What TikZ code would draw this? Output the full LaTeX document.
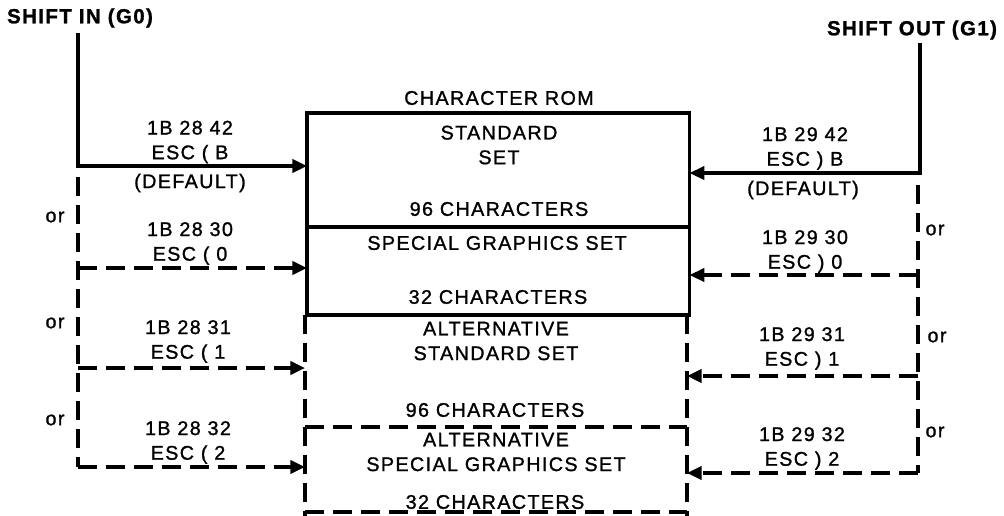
\documentclass[tikz,border=0pt]{standalone}
\usepackage{fontspec}
\setmainfont{Liberation Sans}[LetterSpace=7, FakeBold=1.2]
\usetikzlibrary{arrows.meta}
\begin{document}
\begin{tikzpicture}[x=0.75pt,y=-0.75pt,
  lbl/.style={font=\fontsize{14.8}{18.5}\selectfont, align=center, inner sep=0pt},
  head/.style={font=\fontsize{15.3}{18}\selectfont\bfseries, inner sep=0pt},
  solidln/.style={line width=2.3pt},
  dashln/.style={line width=2.3pt, dash pattern=on 14pt off 7pt},
  arr/.style={-{Triangle[length=11pt,width=10pt]}},
  region/.style={inner sep=0pt, outer sep=0pt, anchor=north west}]
\useasboundingbox (0,0) rectangle (1004,515);
% ROM sections
\node[region, draw, solidln, minimum width=287pt, minimum height=85.5pt] (std) at (307,113) {};
\node[region, draw, solidln, minimum width=287pt, minimum height=66pt] (spc) at (307,227) {};
\node[region, minimum width=286.5pt, minimum height=84pt] (astd) at (305,315) {};
\node[region, minimum width=286.5pt, minimum height=148pt] (aspc) at (305,427) {};
\draw[dashln] (astd.north west) -- (aspc.south west);
\draw[dashln] (astd.north east) -- (aspc.south east);
\draw[dashln] (aspc.north west) -- (aspc.north east);
\coordinate (bl) at (305,512);
\coordinate (br) at (687,512);
\draw[dashln] (bl) -- (br);
% texts in ROM
\node[lbl] (rom) at (499,98) {CHARACTER ROM};
\node[lbl] (t1) at (499,145) {STANDARD\\SET};
\node[lbl] (t2) at (499,209) {96 CHARACTERS};
\node[lbl] (t3) at (497,243) {SPECIAL GRAPHICS SET};
\node[lbl] (t4) at (498,297) {32 CHARACTERS};
\node[lbl] (t5) at (496,341) {ALTERNATIVE\\STANDARD SET};
\node[lbl] (t6) at (495,410) {96 CHARACTERS};
\node[lbl] (t7) at (496,452) {ALTERNATIVE\\SPECIAL GRAPHICS SET};
\node[lbl] (t8) at (495,502) {32 CHARACTERS};
% headings
\node[head] (si) at (80,18) {SHIFT IN (G0)};
\node[head] (so) at (912,30) {SHIFT OUT (G1)};
% left side
\coordinate (L0) at (78,33);
\coordinate (L1) at (78,166);
\coordinate (Ls) at (78,177);
\coordinate (L2) at (78,268);
\coordinate (L3) at (78,368);
\coordinate (L4) at (78,467);
\draw[solidln, arr] (L0) -- (L1) -- (L1 -| std.west);
\draw[dashln] (Ls) -- (L4);
\draw[dashln, arr] (L2) -- (L2 -| spc.west);
\draw[dashln, arr] (L3) -- (L3 -| astd.west);
\draw[dashln, arr] (L4) -- (L4 -| aspc.west);
\node[lbl] (a1) at (190,142) {1B 28 42\\ESC ( B};
\node[lbl] (d1) at (190,183) {(DEFAULT)};
\node[lbl] (a2) at (190,243.5) {1B 28 30\\ESC ( 0};
\node[lbl] (a3) at (188,341.5) {1B 28 31\\ESC ( 1};
\node[lbl] (a4) at (188,442.5) {1B 28 32\\ESC ( 2};
\node[lbl] (o1) at (55,217) {or};
\node[lbl] (o2) at (55,323) {or};
\node[lbl] (o3) at (55,420) {or};
% right side
\coordinate (R0) at (920,43);
\coordinate (R1) at (920,173);
\coordinate (Rs) at (918,185);
\coordinate (R2) at (918,275);
\coordinate (R3) at (918,376);
\coordinate (R4) at (918,473);
\draw[solidln, arr] (R0) -- (R1) -- (R1 -| std.east);
\draw[dashln] (Rs) -- (R4);
\draw[dashln, arr] (R2) -- (R2 -| spc.east);
\draw[dashln, arr] (R3) -- (R3 -| astd.east);
\draw[dashln, arr] (R4) -- (R4 -| aspc.east);
\node[lbl] (b1) at (805,148.5) {1B 29 42\\ESC ) B};
\node[lbl] (d2) at (803,190) {(DEFAULT)};
\node[lbl] (b2) at (805,251.5) {1B 29 30\\ESC ) 0};
\node[lbl] (b3) at (802,348.5) {1B 29 31\\ESC ) 1};
\node[lbl] (b4) at (802,448.5) {1B 29 32\\ESC ) 2};
\node[lbl] (p1) at (935,230) {or};
\node[lbl] (p2) at (937,337) {or};
\node[lbl] (p3) at (935,432) {or};
\end{tikzpicture}
\end{document}
